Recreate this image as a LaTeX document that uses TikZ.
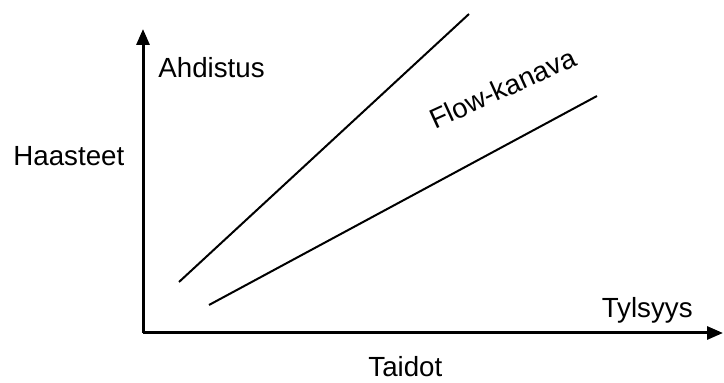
\documentclass[tikz,border=0pt]{standalone}
\usepackage{fontspec}
\setmainfont{Liberation Sans}
\usetikzlibrary{arrows.meta}
\tikzset{
  axisLine/.style={line width=1.5pt, -{Triangle[length=8pt,width=6.5pt]}},
  chanLine/.style={line width=1pt},
  axisLabel/.style={inner sep=0pt, font=\fontsize{13.85pt}{16pt}\selectfont}
}

\begin{document}
\begin{tikzpicture}[x=0.5pt, y=-0.5pt]
        \useasboundingbox (0,0) rectangle (724,383);
        % axes
        \coordinate (origin) at (143,333);
        \coordinate (yTip) at (143,29);
        \coordinate (xTip) at (723,333);
        \draw[axisLine] (origin) -- (yTip);
        \draw[axisLine] (origin) -- (xTip);
        % flow channel
        \coordinate (upperStart) at (179,282);
        \coordinate (upperEnd) at (469,14);
        \coordinate (lowerStart) at (209,305);
        \coordinate (lowerEnd) at (597,96);
        \draw[chanLine] (upperStart) -- (upperEnd);
        \draw[chanLine] (lowerStart) -- (lowerEnd);
        % labels
        \node[axisLabel, anchor=base west] (challenges) at (13,166) {Haasteet};
        \node[axisLabel, anchor=base west] (anxiety) at (158,78) {Ahdistus};
        \node[axisLabel, anchor=base west] (skills) at (368,377) {Taidot};
        \node[axisLabel, anchor=base east] (boredom) at (693,318) {Tylsyys};
        \node[axisLabel, anchor=base west, rotate=24.5] (flow) at (435,130) {Flow-kanava};
      \end{tikzpicture}
\end{document}
